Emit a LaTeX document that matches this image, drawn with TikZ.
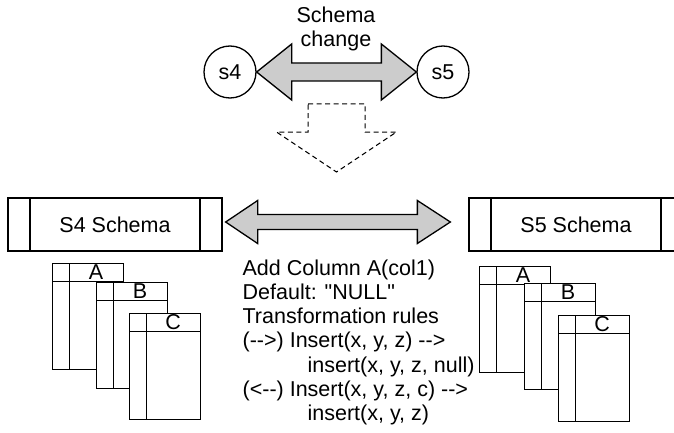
\documentclass[tikz,border=0pt]{standalone}
\usepackage{fontspec}
\setmainfont{Liberation Sans}[Ligatures=TeXOff]
\usetikzlibrary{automata,positioning,calc}

\begin{document}
\begin{tikzpicture}[x=1pt,y=-1pt,line width=1.3pt,
	font=\fontsize{21.5}{24.2}\selectfont,
	every state/.style={minimum size=52pt,inner sep=0pt},
	blockarrow/.style={draw,fill=black!20,line join=miter},
	dashline/.style={draw,line width=1pt,dash pattern=on 5pt off 3.5pt},
	schema/.style={draw,minimum width=214pt,minimum height=53pt,
		path picture={
			\draw ([xshift=22pt]path picture bounding box.north west) -- ([xshift=22pt]path picture bounding box.south west);
			\draw ([xshift=-22pt]path picture bounding box.north east) -- ([xshift=-22pt]path picture bounding box.south east);
		}},
	tbl/.style={draw,fill=white,anchor=north west,minimum width=71pt,minimum height=106pt,inner sep=0pt,
		label={[anchor=base,inner sep=0pt,xshift=8pt,yshift=-16.5pt]north:#1},
		path picture={
			\draw ([yshift=-18pt]path picture bounding box.north west) -- ([yshift=-18pt]path picture bounding box.north east);
			\draw ([xshift=17pt]path picture bounding box.north west) -- ([xshift=17pt]path picture bounding box.south west);
		}}]
		\useasboundingbox (0,0) rectangle (674,433);
		\clip (0,0) rectangle (674,433);

		% states and schema change
		\draw (230,72) node [state] (s4){s4};
		\draw (443,72) node [state] (s5){s5};
		\draw (336,6.5) node [anchor=north,align=center,inner sep=0pt] (chg){Schema\\change};
		\draw [blockarrow] (s4.east) -- ++(35,-28) -- ++(0,19) -- ($(s5.west)+(-35,-9)$) -- ++(0,-19) -- (s5.west)
			-- ++(-35,28) -- ++(0,-19) -- ($(s4.east)+(35,9)$) -- ++(0,19) -- cycle;

		% hollow arrow down
		\coordinate (dtop) at (336.5,104);
		\coordinate (dtip) at (336.5,172);
		\draw [dashline] ($(dtop)+(-28.5,0)$) -- ++(57,0) -- ++(0,28) -- ++(31.5,0) -- (dtip)
			-- ++(-60,-40) -- ++(31.5,0) -- cycle;

		% schemas
		\draw (115,224.5) node [schema] (s4s){S4 Schema};
		\draw (576,224.5) node [schema] (s5s){S5 Schema};
		\coordinate (l) at ($(s4s.east)+(3,-2.5)$);
		\coordinate (r) at ($(s5s.west)+(-18,-2.5)$);
		\draw [blockarrow] (l) -- ++(32,-21.5) -- ++(0,14) -- ($(r)+(-33,-7.5)$) -- ++(0,-14) -- (r)
			-- ++(-33,21.5) -- ++(0,-14) -- ($(l)+(32,7.5)$) -- ++(0,14) -- cycle;

		\draw (242,259) node [anchor=north west,align=left,inner sep=0pt] (rules){Add Column A(col1)\\
			Default: "NULL"\\
			Transformation rules\\
			(-{}->) Insert(x, y, z) -{}->\\
			\hspace*{65pt}insert(x, y, z, null)\\
			(<-{}-) Insert(x, y, z, c) -{}->\\
			\hspace*{65pt}insert(x, y, z)};

		% tables
		\draw (52,263) node [tbl=A] (a4){};
		\draw (96,282) node [tbl=B] (b4){};
		\draw (129,313) node [tbl=C] (c4){};
		\draw (479,266) node [tbl=A] (a5){};
		\draw (524,283) node [tbl=B] (b5){};
		\draw (558,315) node [tbl=C] (c5){};
	\end{tikzpicture}
\end{document}
